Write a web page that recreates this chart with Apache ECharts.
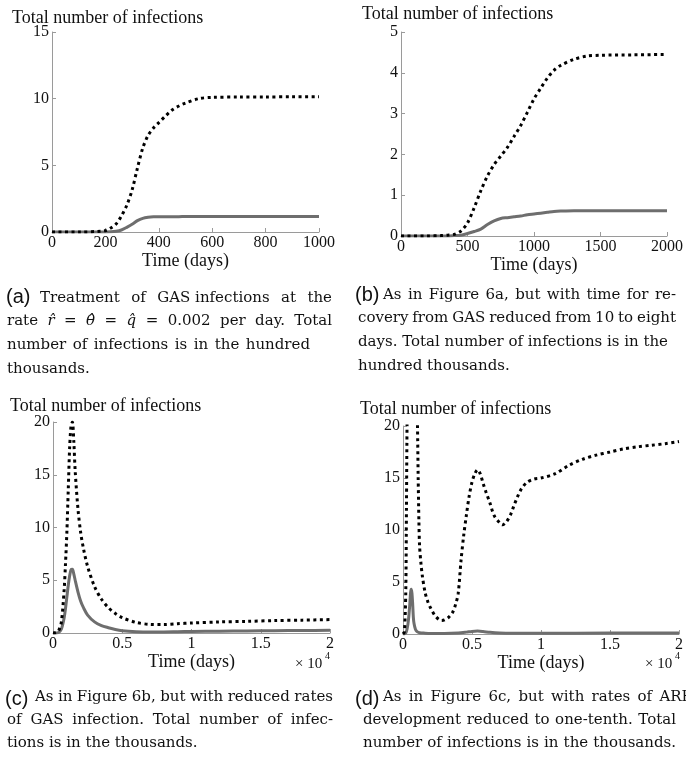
<!DOCTYPE html>
<html>
<head>
<meta charset="utf-8">
<script src="https://cdn.jsdelivr.net/npm/echarts@6/dist/echarts.min.js"></script>
<style>html,body{margin:0;padding:0;background:#fff}#c{width:686px;height:761px}</style>
</head>
<body>
<div id="c"></div>
<script>
// ---------- DATA ----------
// Panel (a): time in days, total infections
const aDays   = [0, 100, 200, 220, 240, 260, 280, 300, 320, 340, 360, 380, 400, 425, 450, 475, 500, 550, 600, 700, 800, 900, 1000];
const aDotted = [0, 0, 0.1, 0.3, 0.6, 1.2, 2.0, 3.15, 4.8, 6.3, 7.25, 7.8, 8.2, 8.7, 9.15, 9.45, 9.67, 10.0, 10.1, 10.12, 10.13, 10.14, 10.15];
const aSolid  = [0, 0, 0, 0.01, 0.05, 0.15, 0.35, 0.58, 0.85, 1.02, 1.1, 1.14, 1.15, 1.15, 1.15, 1.15, 1.16, 1.16, 1.16, 1.17, 1.17, 1.17, 1.17];

// Panel (b)
const bDays   = [0, 200, 300, 350, 400, 450, 500, 550, 600, 650, 700, 750, 800, 850, 900, 950, 1000, 1050, 1100, 1150, 1200, 1300, 1400, 1500, 1750, 2000];
const bDotted = [0, 0, 0.01, 0.02, 0.04, 0.12, 0.32, 0.69, 1.11, 1.47, 1.75, 1.96, 2.17, 2.44, 2.71, 3.03, 3.36, 3.62, 3.87, 4.06, 4.18, 4.33, 4.41, 4.43, 4.44, 4.45];
const bSolid  = [0, 0, 0, 0, 0.01, 0.02, 0.06, 0.11, 0.17, 0.28, 0.37, 0.43, 0.45, 0.47, 0.49, 0.52, 0.54, 0.56, 0.58, 0.6, 0.61, 0.62, 0.62, 0.62, 0.62, 0.62];

// Panel (c): time in units of 10^4 days
const cTime   = [0, 0.02, 0.04, 0.06, 0.08, 0.09, 0.1, 0.11, 0.12, 0.13, 0.14, 0.15, 0.16, 0.18, 0.2, 0.22, 0.25, 0.3, 0.35, 0.4, 0.45, 0.5, 0.6, 0.7, 0.8, 0.9, 1.0, 1.2, 1.4, 1.6, 1.8, 2.0];
const cDotted = [0, 0.02, 0.2, 1.0, 4.0, 6.5, 9.5, 13.5, 17.5, 19.6, 20, 18.2, 15.4, 11.8, 9.5, 8.0, 6.3, 4.4, 3.2, 2.4, 1.85, 1.45, 1.0, 0.82, 0.8, 0.88, 0.95, 1.05, 1.1, 1.18, 1.22, 1.27];
const cSolid  = [0, 0, 0.05, 0.35, 1.4, 2.3, 3.4, 4.5, 5.4, 6.0, 6.05, 5.6, 5.0, 3.9, 3.0, 2.4, 1.7, 1.05, 0.7, 0.5, 0.33, 0.22, 0.13, 0.1, 0.1, 0.12, 0.14, 0.17, 0.2, 0.22, 0.24, 0.25];

// Panel (d): time in units of 10^4 days
const dTime   = [0, 0.01, 0.02, 0.025, 0.03, 0.04, 0.05, 0.06, 0.07, 0.08, 0.09, 0.1, 0.105, 0.11, 0.115, 0.12, 0.13, 0.14, 0.16, 0.18, 0.2, 0.23, 0.26, 0.28, 0.3, 0.33, 0.36, 0.38, 0.4, 0.42, 0.44, 0.46, 0.48, 0.5, 0.52, 0.54, 0.56, 0.58, 0.6, 0.63, 0.66, 0.7, 0.72, 0.75, 0.78, 0.8, 0.83, 0.86, 0.9, 0.95, 1.0, 1.1, 1.2, 1.3, 1.4, 1.5, 1.6, 1.7, 1.8, 1.9, 2.0];
const dDotted = [0, 0.2, 4, 12, 21, 30, 34, 35, 34, 31, 27, 23, 20, 15, 11, 8.5, 6.8, 5.6, 4.0, 3.1, 2.5, 1.8, 1.4, 1.3, 1.35, 1.6, 2.1, 2.8, 3.9, 7.0, 9.5, 11.5, 13.3, 14.6, 15.4, 15.8, 15.4, 14.5, 13.7, 12.6, 11.4, 10.7, 10.5, 10.8, 11.5, 12.2, 13.2, 14.0, 14.6, 14.9, 15.0, 15.4, 16.2, 16.8, 17.2, 17.5, 17.8, 18.0, 18.15, 18.3, 18.5];
const dSolidTime = [0, 0.01, 0.02, 0.03, 0.04, 0.05, 0.055, 0.06, 0.065, 0.07, 0.075, 0.08, 0.09, 0.1, 0.12, 0.16, 0.2, 0.3, 0.4, 0.46, 0.5, 0.54, 0.58, 0.63, 0.7, 0.8, 1.0, 1.5, 2.0];
const dSolid  = [0, 0.02, 0.1, 0.5, 1.4, 3.0, 4.0, 4.3, 3.9, 2.9, 1.6, 1.0, 0.45, 0.25, 0.12, 0.08, 0.06, 0.06, 0.1, 0.18, 0.25, 0.28, 0.24, 0.16, 0.1, 0.08, 0.08, 0.09, 0.1];

// Axis settings (max, interval)
const xMax = [1000, 2000, 2, 2];
const xStep = [200, 500, 0.5, 0.5];
const yMax = [15, 5, 20, 20];
const yStep = [5, 1, 5, 5];

// Texts
const yTitle = 'Total number of infections';
const xTitle = 'Time (days)';
const panelTags = ['(a)', '(b)', '(c)', '(d)'];
const capA = [
  ['Treatment', 'of', 'GAS infections', 'at', 'the'],
  ['rate', 'r\u0302', '=', '\u03B8\u0302', '=', 'q\u0302', '=', '0.002', 'per', 'day.', 'Total'],
  ['number', 'of', 'infections', 'is', 'in', 'the', 'hundred'],
  ['thousands.']
];
const capB = [
  ['As', 'in', 'Figure', '6a,', 'but', 'with', 'time', 'for', 're-'],
  ['covery', 'from', 'GAS', 'reduced', 'from', '10', 'to', 'eight'],
  ['days.', 'Total', 'number', 'of', 'infections', 'is', 'in', 'the'],
  ['hundred', 'thousands.']
];
const capC = [
  ['As', 'in', 'Figure', '6b,', 'but', 'with', 'reduced', 'rates'],
  ['of', 'GAS', 'infection.', 'Total', 'number', 'of', 'infec-'],
  ['tions', 'is', 'in', 'the', 'thousands.']
];
const capD = [
  ['As', 'in', 'Figure', '6c,', 'but', 'with', 'rates', 'of', 'ARF'],
  ['development', 'reduced', 'to', 'one-tenth.', 'Total'],
  ['number', 'of', 'infections', 'is', 'in', 'the', 'thousands.']
];
const mathWords = new Set(['r\u0302', '\u03B8\u0302', 'q\u0302']);

// ---------- LAYOUT ----------
const grids = [
  {left: 52, top: 32, width: 267, height: 200},
  {left: 401, top: 32, width: 269, height: 204},
  {left: 53, top: 422, width: 277, height: 211},
  {left: 403, top: 426, width: 278, height: 208}
];
const nameGaps = [18, 14, 18, 16];
const SERIF = '"Liberation Serif", "Times New Roman", serif';
const CAPF = '"DejaVu Serif", serif';
const axisGrey = '#9a9a9a';

const pair = (xs, ys) => xs.map((x, i) => [x, ys[i]]);
const plain = v => String(v);

const xAxis = grids.map((g, i) => ({
  type: 'value', gridIndex: i, min: 0, max: xMax[i], interval: xStep[i],
  name: xTitle, nameLocation: 'middle', nameGap: nameGaps[i],
  nameTextStyle: {fontFamily: SERIF, fontSize: 18, color: '#111'},
  axisLine: {show: true, lineStyle: {color: axisGrey, width: 1}},
  axisTick: {show: true, inside: true, length: 4, lineStyle: {color: axisGrey}},
  axisLabel: {color: '#111', fontFamily: SERIF, fontSize: 16, margin: 3, formatter: plain},
  splitLine: {show: false}
}));
const yAxis = grids.map((g, i) => ({
  type: 'value', gridIndex: i, min: 0, max: yMax[i], interval: yStep[i],
  axisLine: {show: true, lineStyle: {color: axisGrey, width: 1}},
  axisTick: {show: true, inside: true, length: 4, lineStyle: {color: axisGrey}},
  axisLabel: {color: '#111', fontFamily: SERIF, fontSize: 16, margin: 3, formatter: plain},
  splitLine: {show: false}
}));

function dotted(i, data) {
  return {type: 'line', xAxisIndex: i, yAxisIndex: i, data, showSymbol: false, smooth: 0.3, clip: true,
    lineStyle: {color: '#000', width: 3, type: [3, 3.5], cap: 'butt'}, z: 3};
}
function solid(i, data) {
  return {type: 'line', xAxisIndex: i, yAxisIndex: i, data, showSymbol: false, smooth: 0.3, clip: true,
    lineStyle: {color: '#6e6e6e', width: 3}, z: 2};
}
const series = [
  solid(0, pair(aDays, aSolid)), dotted(0, pair(aDays, aDotted)),
  solid(1, pair(bDays, bSolid)), dotted(1, pair(bDays, bDotted)),
  solid(2, pair(cTime, cSolid)), dotted(2, pair(cTime, cDotted)),
  solid(3, pair(dSolidTime, dSolid)), dotted(3, pair(dTime, dDotted))
];

// ---------- TEXT GRAPHICS ----------
const mctx = document.createElement('canvas').getContext('2d');
function fontStr(size, fam, italic) { return (italic ? 'italic ' : '') + size + 'px ' + fam; }
function measure(t, size, fam, italic) { mctx.font = fontStr(size, fam, italic); return mctx.measureText(t).width; }
function txt(t, x, y, size, fam, opts) {
  opts = opts || {};
  return {type: 'text', x, y, silent: true, style: {
    text: t, fill: '#111', fontSize: size, fontFamily: fam, fontStyle: opts.italic ? 'italic' : 'normal',
    align: opts.align || 'left', textAlign: opts.align || 'left',
    verticalAlign: 'middle', textVerticalAlign: 'middle'}};
}
function capLine(words, x0, x1, cy, justify) {
  const size = 15;
  const ws = words.map(w => measure(w, size, CAPF, mathWords.has(w)));
  const total = ws.reduce((a, b) => a + b, 0);
  const sp = measure(' ', size, CAPF);
  let gap = sp;
  if (justify && words.length > 1) gap = Math.max(sp * 0.8, (x1 - x0 - total) / (words.length - 1));
  const out = [];
  let x = x0;
  words.forEach((w, k) => {
    out.push(txt(w, x, cy, size, CAPF, {italic: mathWords.has(w)}));
    x += ws[k] + gap;
  });
  return out;
}
const SANS = '"Liberation Sans", Arial, sans-serif';
let graphics = [];
// y titles
[[12, 18], [362, 14], [10, 406], [360, 409]].forEach(p => graphics.push(txt(yTitle, p[0], p[1], 18, SERIF)));
// x 10^4 multipliers
graphics.push(txt('\u00D7 10', 295, 664, 15, SERIF), txt('4', 325, 656, 10, SERIF));
graphics.push(txt('\u00D7 10', 645, 664, 15, SERIF), txt('4', 675, 656, 10, SERIF));
// panel tags
graphics.push(txt(panelTags[0], 6, 297, 20, SANS), txt(panelTags[1], 355, 295, 20, SANS),
              txt(panelTags[2], 5, 699, 20, SANS), txt(panelTags[3], 355, 699, 20, SANS));
// captions
graphics = graphics.concat(
  capLine(capA[0], 40, 332, 298, true), capLine(capA[1], 7, 332, 321, true),
  capLine(capA[2], 7, 310, 345, true), capLine(capA[3], 7, 0, 369, false),
  capLine(capB[0], 383, 676, 295, true), capLine(capB[1], 358, 676, 318, true),
  capLine(capB[2], 358, 668, 342, true), capLine(capB[3], 358, 0, 366, false),
  capLine(capC[0], 35, 333, 697, true), capLine(capC[1], 7, 333, 720, true),
  capLine(capC[2], 7, 0, 743, false),
  capLine(capD[0], 383, 692, 697, true), capLine(capD[1], 363, 676, 720, true),
  capLine(capD[2], 363, 676, 743, true)
);

const chart = echarts.init(document.getElementById('c'), null, {renderer: 'canvas'});
chart.setOption({
  animation: false,
  backgroundColor: '#fff',
  grid: grids,
  xAxis, yAxis, series,
  graphic: {elements: graphics}
});
</script>
</body>
</html>
